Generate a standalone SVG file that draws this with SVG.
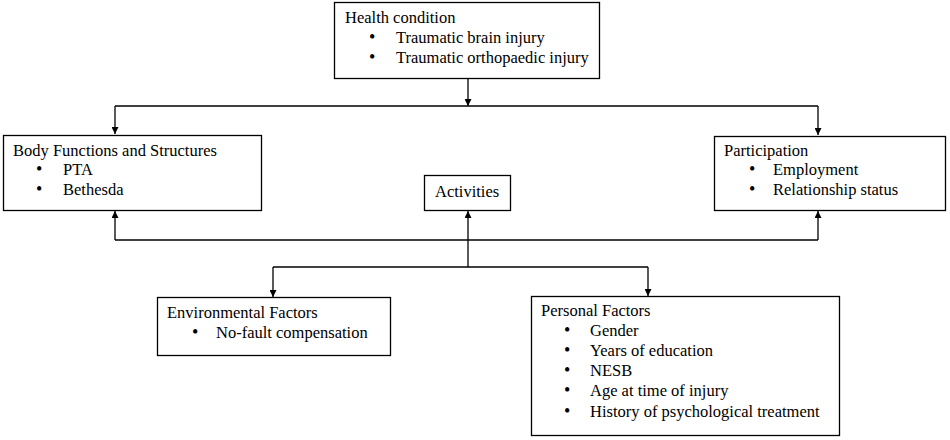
<svg xmlns="http://www.w3.org/2000/svg" width="950" height="440" viewBox="0 0 950 440">
<style>
.box{fill:#fff;stroke:#000;stroke-width:1.3}
.c{fill:none;stroke:#000;stroke-width:1.3}
.b{font-size:18px}
</style>
<defs>
<marker id="ah" viewBox="0 0 10 10" refX="10" refY="5" markerWidth="7" markerHeight="7" markerUnits="userSpaceOnUse" orient="auto">
<path d="M0,0 L10,5 L0,10 z" fill="#000"/>
</marker>
</defs>
<rect width="950" height="440" fill="#fff"/>
<g id="connectors">
<line class="c" x1="468" y1="78" x2="468" y2="106" marker-end="url(#ah)"/>
<line class="c" x1="115" y1="106" x2="818" y2="106"/>
<line class="c" x1="115" y1="106" x2="115" y2="134" marker-end="url(#ah)"/>
<line class="c" x1="818" y1="106" x2="818" y2="135" marker-end="url(#ah)"/>
<line class="c" x1="468" y1="267" x2="468" y2="211" marker-end="url(#ah)"/>
<line class="c" x1="115" y1="240" x2="818" y2="240"/>
<line class="c" x1="115" y1="240" x2="115" y2="211" marker-end="url(#ah)"/>
<line class="c" x1="818" y1="240" x2="818" y2="211" marker-end="url(#ah)"/>
<line class="c" x1="273" y1="267" x2="648" y2="267"/>
<line class="c" x1="273" y1="267" x2="273" y2="297" marker-end="url(#ah)"/>
<line class="c" x1="648" y1="267" x2="648" y2="296" marker-end="url(#ah)"/>
</g>
<g font-family="Liberation Serif, Times New Roman, DejaVu Serif, serif" font-size="16.5" fill="#000">
<g id="health">
<rect class="box" x="334.5" y="2.5" width="265" height="76"/>
<text x="345" y="23">Health condition</text>
<text class="b" x="369" y="43">•</text>
<text x="396" y="43">Traumatic brain injury</text>
<text class="b" x="369" y="63">•</text>
<text x="396" y="63">Traumatic orthopaedic injury</text>
</g>
<g id="body">
<rect class="box" x="3.5" y="135.5" width="258" height="75"/>
<text x="13" y="156">Body Functions and Structures</text>
<text class="b" x="36" y="175">•</text>
<text x="63" y="175">PTA</text>
<text class="b" x="36" y="195">•</text>
<text x="63" y="195">Bethesda</text>
</g>
<g id="activities">
<rect class="box" x="424.5" y="175.5" width="86" height="35"/>
<text x="435" y="197">Activities</text>
</g>
<g id="participation">
<rect class="box" x="714.5" y="136.5" width="231" height="74"/>
<text x="724" y="156">Participation</text>
<text class="b" x="749" y="175">•</text>
<text x="773" y="175">Employment</text>
<text class="b" x="749" y="195">•</text>
<text x="773" y="195">Relationship status</text>
</g>
<g id="environmental">
<rect class="box" x="157.5" y="297.5" width="233" height="58"/>
<text x="167" y="318">Environmental Factors</text>
<text class="b" x="192" y="338">•</text>
<text x="216" y="338">No-fault compensation</text>
</g>
<g id="personal">
<rect class="box" x="531.5" y="296.5" width="308" height="139"/>
<text x="541" y="316">Personal Factors</text>
<text class="b" x="564" y="336">•</text>
<text x="590" y="336">Gender</text>
<text class="b" x="564" y="356">•</text>
<text x="590" y="356">Years of education</text>
<text class="b" x="564" y="376">•</text>
<text x="590" y="376">NESB</text>
<text class="b" x="564" y="396">•</text>
<text x="590" y="396">Age at time of injury</text>
<text class="b" x="564" y="417">•</text>
<text x="590" y="417">History of psychological treatment</text>
</g>
</g>
</svg>
